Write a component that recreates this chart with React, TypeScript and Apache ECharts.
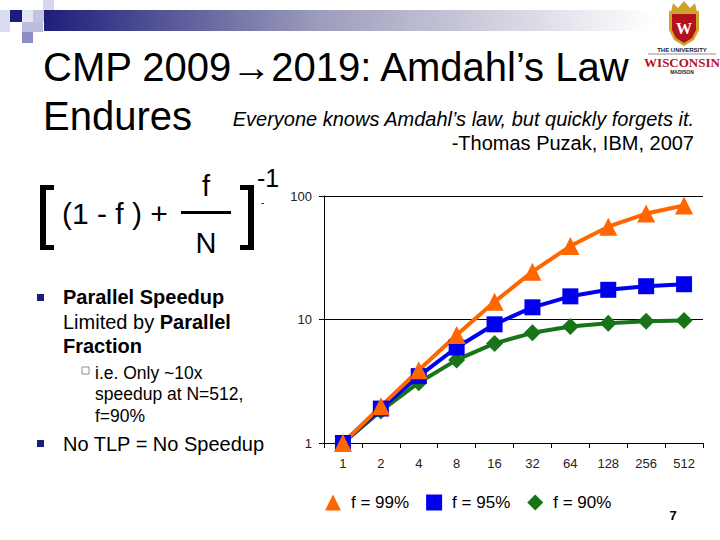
import React, { useEffect, useRef } from "react";
import * as echarts from "echarts";

// Processor counts (x categories) and speedup readings for three parallel fractions
const cores = ["1", "2", "4", "8", "16", "32", "64", "128", "256", "512"];
const speedup99 = [1, 1.98, 3.88, 7.5, 13.9, 24.4, 39.3, 56.4, 72.1, 83.8];
const speedup95 = [1, 1.9, 3.48, 5.93, 9.14, 12.55, 15.4, 17.4, 18.6, 19.3];
const speedup90 = [1, 1.82, 3.08, 4.71, 6.4, 7.8, 8.77, 9.34, 9.66, 9.83];
const seriesNames = ["f = 99%", "f = 95%", "f = 90%"];

const ORANGE = "#FF6600";
const BLUE = "#0000EE";
const GREEN = "#187418";
const NAVY = "#1c1c7c";
const FONT = "Arial, 'Liberation Sans', Helvetica, sans-serif";

function txt(x: number, y: number, text: string, size: number, extra: any = {}) {
  return {
    type: "text",
    x,
    y,
    style: {
      text,
      fontSize: size,
      fontFamily: FONT,
      fill: "#000",
      textVerticalAlign: "middle",
      ...extra,
    },
  };
}

function rect(x: number, y: number, w: number, h: number, fill: any) {
  return { type: "rect", shape: { x, y, width: w, height: h }, style: { fill } };
}

export default function App() {
  const ref = useRef<HTMLDivElement>(null);

  useEffect(() => {
    document.body.style.margin = "0";
    const chart = echarts.init(ref.current!, null, { renderer: "svg" });

    const graphics: any[] = [
      // header decoration: small squares and fading band
      rect(0, 10, 10, 22, "#dcdcf0"),
      rect(10, 10, 12, 12, NAVY),
      rect(22, 10, 11, 12, "#e4e4f4"),
      rect(33, 10, 11, 12, "#c4c4e2"),
      rect(43, 0, 11, 10, "#d6d6ec"),
      rect(22, 22, 21, 10, "#bcbcde"),
      rect(22, 32, 11, 11, "#8c8cc6"),
      rect(44, 10, 610, 21, {
        type: "linear",
        x: 0,
        y: 0,
        x2: 1,
        y2: 0,
        colorStops: [
          { offset: 0, color: "#1e1e7a" },
          { offset: 0.45, color: "#9c9cbc" },
          { offset: 1, color: "#ffffff" },
        ],
      }),

      // crest
      {
        type: "polygon",
        shape: { points: [[671, 12], [673, 3], [678, 8], [684, 1], [690, 8], [695, 3], [697, 12]] },
        style: { fill: "#c9a227" },
      },
      {
        type: "polygon",
        shape: { points: [[669, 11], [699, 11], [699, 30], [694, 40], [684, 46], [674, 40], [669, 30]] },
        style: { fill: "#cfa52a" },
      },
      {
        type: "polygon",
        shape: { points: [[672, 14], [696, 14], [696, 30], [692, 38], [684, 43], [676, 38], [672, 30]] },
        style: { fill: "#b3121b" },
      },
      txt(684, 28, "W", 16, {
        fill: "#ffffff",
        fontFamily: "'Liberation Serif', 'DejaVu Serif', serif",
        fontWeight: "bold",
        textAlign: "center",
      }),
      txt(682, 50, "THE UNIVERSITY", 6, { textAlign: "center", fontWeight: "bold", fill: "#222" }),
      { type: "line", shape: { x1: 648, y1: 54, x2: 716, y2: 54 }, style: { stroke: "#444", lineWidth: 0.6 } },
      txt(682, 62, "WISCONSIN", 13, {
        textAlign: "center",
        fontWeight: "bold",
        fill: "#b3121b",
        fontFamily: "'Liberation Serif', 'DejaVu Serif', serif",
      }),
      txt(682, 72, "MADISON", 5, { textAlign: "center", fontWeight: "bold", fill: "#222" }),

      // title and quote
      txt(43, 67, "CMP 2009\u21922019: Amdahl\u2019s Law", 40),
      txt(43, 116, "Endures", 40),
      txt(694, 119, "Everyone knows Amdahl\u2019s law, but quickly forgets it.", 20, {
        textAlign: "right",
        fontStyle: "italic",
      }),
      txt(694, 143, "-Thomas Puzak, IBM, 2007", 20, { textAlign: "right" }),

      // formula
      rect(40, 185, 6, 65, "#000"),
      rect(40, 185, 14, 5, "#000"),
      rect(40, 245, 14, 5, "#000"),
      rect(248, 185, 6, 65, "#000"),
      rect(240, 185, 14, 5, "#000"),
      rect(240, 245, 14, 5, "#000"),
      txt(62, 213, "(1 - f ) +", 30),
      txt(206, 186, "f", 29, { textAlign: "center" }),
      rect(181, 211, 50, 3, "#000"),
      txt(206, 243, "N", 29, { textAlign: "center" }),
      txt(257, 178, "-1", 25),
      txt(261, 202, "-", 10),

      // bullets
      rect(37, 294, 7, 7, NAVY),
      {
        type: "text",
        x: 63,
        y: 285,
        style: {
          text: "{b|Parallel Speedup}\n{n|Limited by }{b|Parallel}\n{b|Fraction}",
          fontFamily: FONT,
          textVerticalAlign: "top",
          lineHeight: 24.5,
          rich: {
            b: { fontSize: 20, fontWeight: "bold", fontFamily: FONT, fill: "#000", lineHeight: 24.5 },
            n: { fontSize: 20, fontFamily: FONT, fill: "#000", lineHeight: 24.5 },
          },
        },
      },
      {
        type: "rect",
        shape: { x: 82, y: 367, width: 7, height: 7 },
        style: { fill: "#fff", stroke: "#8a8aa8", lineWidth: 1 },
      },
      {
        type: "text",
        x: 95,
        y: 362,
        style: {
          text: "i.e. Only ~10x\nspeedup at N=512,\nf=90%",
          fontFamily: FONT,
          fontSize: 17.5,
          fill: "#000",
          lineHeight: 21.5,
          textVerticalAlign: "top",
        },
      },
      rect(37, 440, 7, 7, NAVY),
      txt(63, 444, "No TLP = No Speedup", 20),

      // slide number
      txt(673, 515, "7", 13, { textAlign: "center", fontWeight: "bold" }),
    ];

    chart.setOption({
      animation: false,
      backgroundColor: "#ffffff",
      grid: { left: 324, top: 196, right: 17, bottom: 97, containLabel: false },
      legend: {
        left: 320,
        top: 489,
        itemWidth: 16,
        itemHeight: 16,
        itemGap: 17,
        data: [
          { name: seriesNames[0], icon: "triangle" },
          { name: seriesNames[1], icon: "rect" },
          { name: seriesNames[2], icon: "diamond" },
        ],
        textStyle: { fontSize: 17, fontFamily: FONT, color: "#000", padding: [0, 0, 0, 5] },
      },
      xAxis: {
        type: "category",
        data: cores,
        boundaryGap: true,
        axisLine: { lineStyle: { color: "#000", width: 1 } },
        axisTick: { show: true, length: 5, lineStyle: { color: "#000" } },
        axisLabel: { fontSize: 13, fontFamily: FONT, color: "#222", margin: 14 },
      },
      yAxis: {
        type: "log",
        logBase: 10,
        min: 1,
        max: 100,
        axisLine: { show: true, lineStyle: { color: "#000", width: 1 } },
        axisTick: { show: true, length: 5, lineStyle: { color: "#000" } },
        axisLabel: { fontSize: 13, fontFamily: FONT, color: "#222", margin: 12 },
        splitLine: { show: true, lineStyle: { color: "#000", width: 1 } },
        minorTick: { show: false },
      },
      series: [
        {
          name: seriesNames[2],
          type: "line",
          data: speedup90,
          symbol: "diamond",
          symbolSize: 17,
          itemStyle: { color: GREEN },
          lineStyle: { color: GREEN, width: 4 },
        },
        {
          name: seriesNames[1],
          type: "line",
          data: speedup95,
          symbol: "rect",
          symbolSize: 16,
          itemStyle: { color: BLUE },
          lineStyle: { color: BLUE, width: 4 },
        },
        {
          name: seriesNames[0],
          type: "line",
          data: speedup99,
          symbol: "triangle",
          symbolSize: 18,
          itemStyle: { color: ORANGE },
          lineStyle: { color: ORANGE, width: 4 },
        },
      ],
      graphic: graphics,
    });

    return () => chart.dispose();
  }, []);

  return (
    <div
      ref={ref}
      style={{ position: "absolute", left: 0, top: 0, width: 720, height: 540, background: "#fff" }}
    />
  );
}
